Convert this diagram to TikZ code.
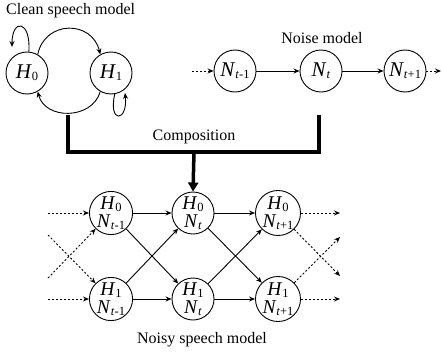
\documentclass[tikz,border=0pt]{standalone}
\usepackage{fontspec}
\setmainfont{Liberation Serif}
\usetikzlibrary{arrows.meta}
\newcommand\sbx[1]{\raisebox{-2pt}{\fontsize{12.5}{12}\selectfont #1}}
\newcommand\hs[1]{\textit{H}\sbx{#1}}
\newcommand\ns[1]{\textit{N}\sbx{#1}}
\tikzset{
  st/.style={circle,draw,line width=0.9pt,minimum size=42pt,inner sep=0pt,
    font=\fontsize{21}{18}\selectfont,align=center},
  st2/.style={st,font=\fontsize{19.5}{18}\selectfont},
  arr/.style={line width=0.9pt,-{Stealth[length=6pt,width=5pt]}},
  dotarr/.style={arr,dash pattern=on 2pt off 2pt},
  txt/.style={font=\fontsize{16}{16}\selectfont,inner sep=0pt},
  comp/.style={line width=3.5pt},
}
\begin{document}
\begin{tikzpicture}[x=1pt,y=-1pt]
\useasboundingbox (0,0) rectangle (443,356);
% clean speech model
\node[txt,anchor=base west] (t1) at (6,14) {Clean speech model};
\node[st] (h0) at (27,73) {\hs{0}};
\node[st] (h1) at (111,73) {\hs{1}};
\draw[arr] (h0.60) .. controls (45,20) and (92,20) .. (h1.120);
\draw[arr] (h1.240) .. controls (92,120) and (45,120) .. (h0.300);
\draw[arr] (h0.85) .. controls (31,20) and (12,18) .. (12,47);
\draw[arr] (h1.280) .. controls (108,124) and (128,122) .. (125,93);
% noise model
\node[txt,anchor=base] (t2) at (322,43) {Noise model};
\node[st] (n0) at (235,71) {\ns{\textit{t}-1}};
\node[st] (n1) at (321,71) {\ns{\textit{t}}};
\node[st] (n2) at (405,71) {\ns{\textit{t}+1}};
\coordinate (nin) at (192,71);
\coordinate (nout) at (441,71);
\draw[dotarr] (nin) -- (n0);
\draw[arr] (n0) -- (n1);
\draw[arr] (n1) -- (n2);
\draw[dotarr] (n2) -- (nout);
% composition
\coordinate (cl) at (68,115);
\coordinate (cr) at (319,115);
\coordinate (cm) at (194,152);
\draw[comp] (cl) |- (cm) -| (cr);
\node[txt,anchor=base] (t3) at (194,140) {Composition};
% noisy speech model
\node[st2] (a0) at (111,213) {\hs{0}\\\ns{\textit{t}-1}};
\node[st2] (b0) at (111,299) {\hs{1}\\\ns{\textit{t}-1}};
\node[st2] (a1) at (193,213) {\hs{0}\\\ns{\textit{t}}};
\node[st2] (b1) at (193,299) {\hs{1}\\\ns{\textit{t}}};
\node[st2] (a2) at (278,213) {\hs{0}\\\ns{\textit{t}+1}};
\node[st2] (b2) at (278,299) {\hs{1}\\\ns{\textit{t}+1}};
\draw[line width=3.5pt,-{Triangle[length=9pt,width=10pt]}] (cm) -- (a1.north);
\node[txt,anchor=base] (t4) at (202,343) {Noisy speech model};
\coordinate (ia) at (48,213);
\coordinate (ib) at (48,299);
\coordinate (ic) at (48,235);
\coordinate (id) at (48,278);
\draw[dotarr] (ia) -- (a0);
\draw[dotarr] (ib) -- (b0);
\draw[dotarr] (ic) -- (b0);
\draw[dotarr] (id) -- (a0);
\draw[arr] (a0) -- (a1);
\draw[arr] (b0) -- (b1);
\draw[arr] (a0) -- (b1);
\draw[arr] (b0) -- (a1);
\draw[arr] (a1) -- (a2);
\draw[arr] (b1) -- (b2);
\draw[arr] (a1) -- (b2);
\draw[arr] (b1) -- (a2);
\coordinate (oa) at (340,213);
\coordinate (ob) at (340,299);
\coordinate (oc) at (340,237);
\coordinate (od) at (340,276);
\draw[dotarr] (a2) -- (oa);
\draw[dotarr] (b2) -- (ob);
\draw[dotarr] (a2) -- (od);
\draw[dotarr] (b2) -- (oc);
\end{tikzpicture}
\end{document}
